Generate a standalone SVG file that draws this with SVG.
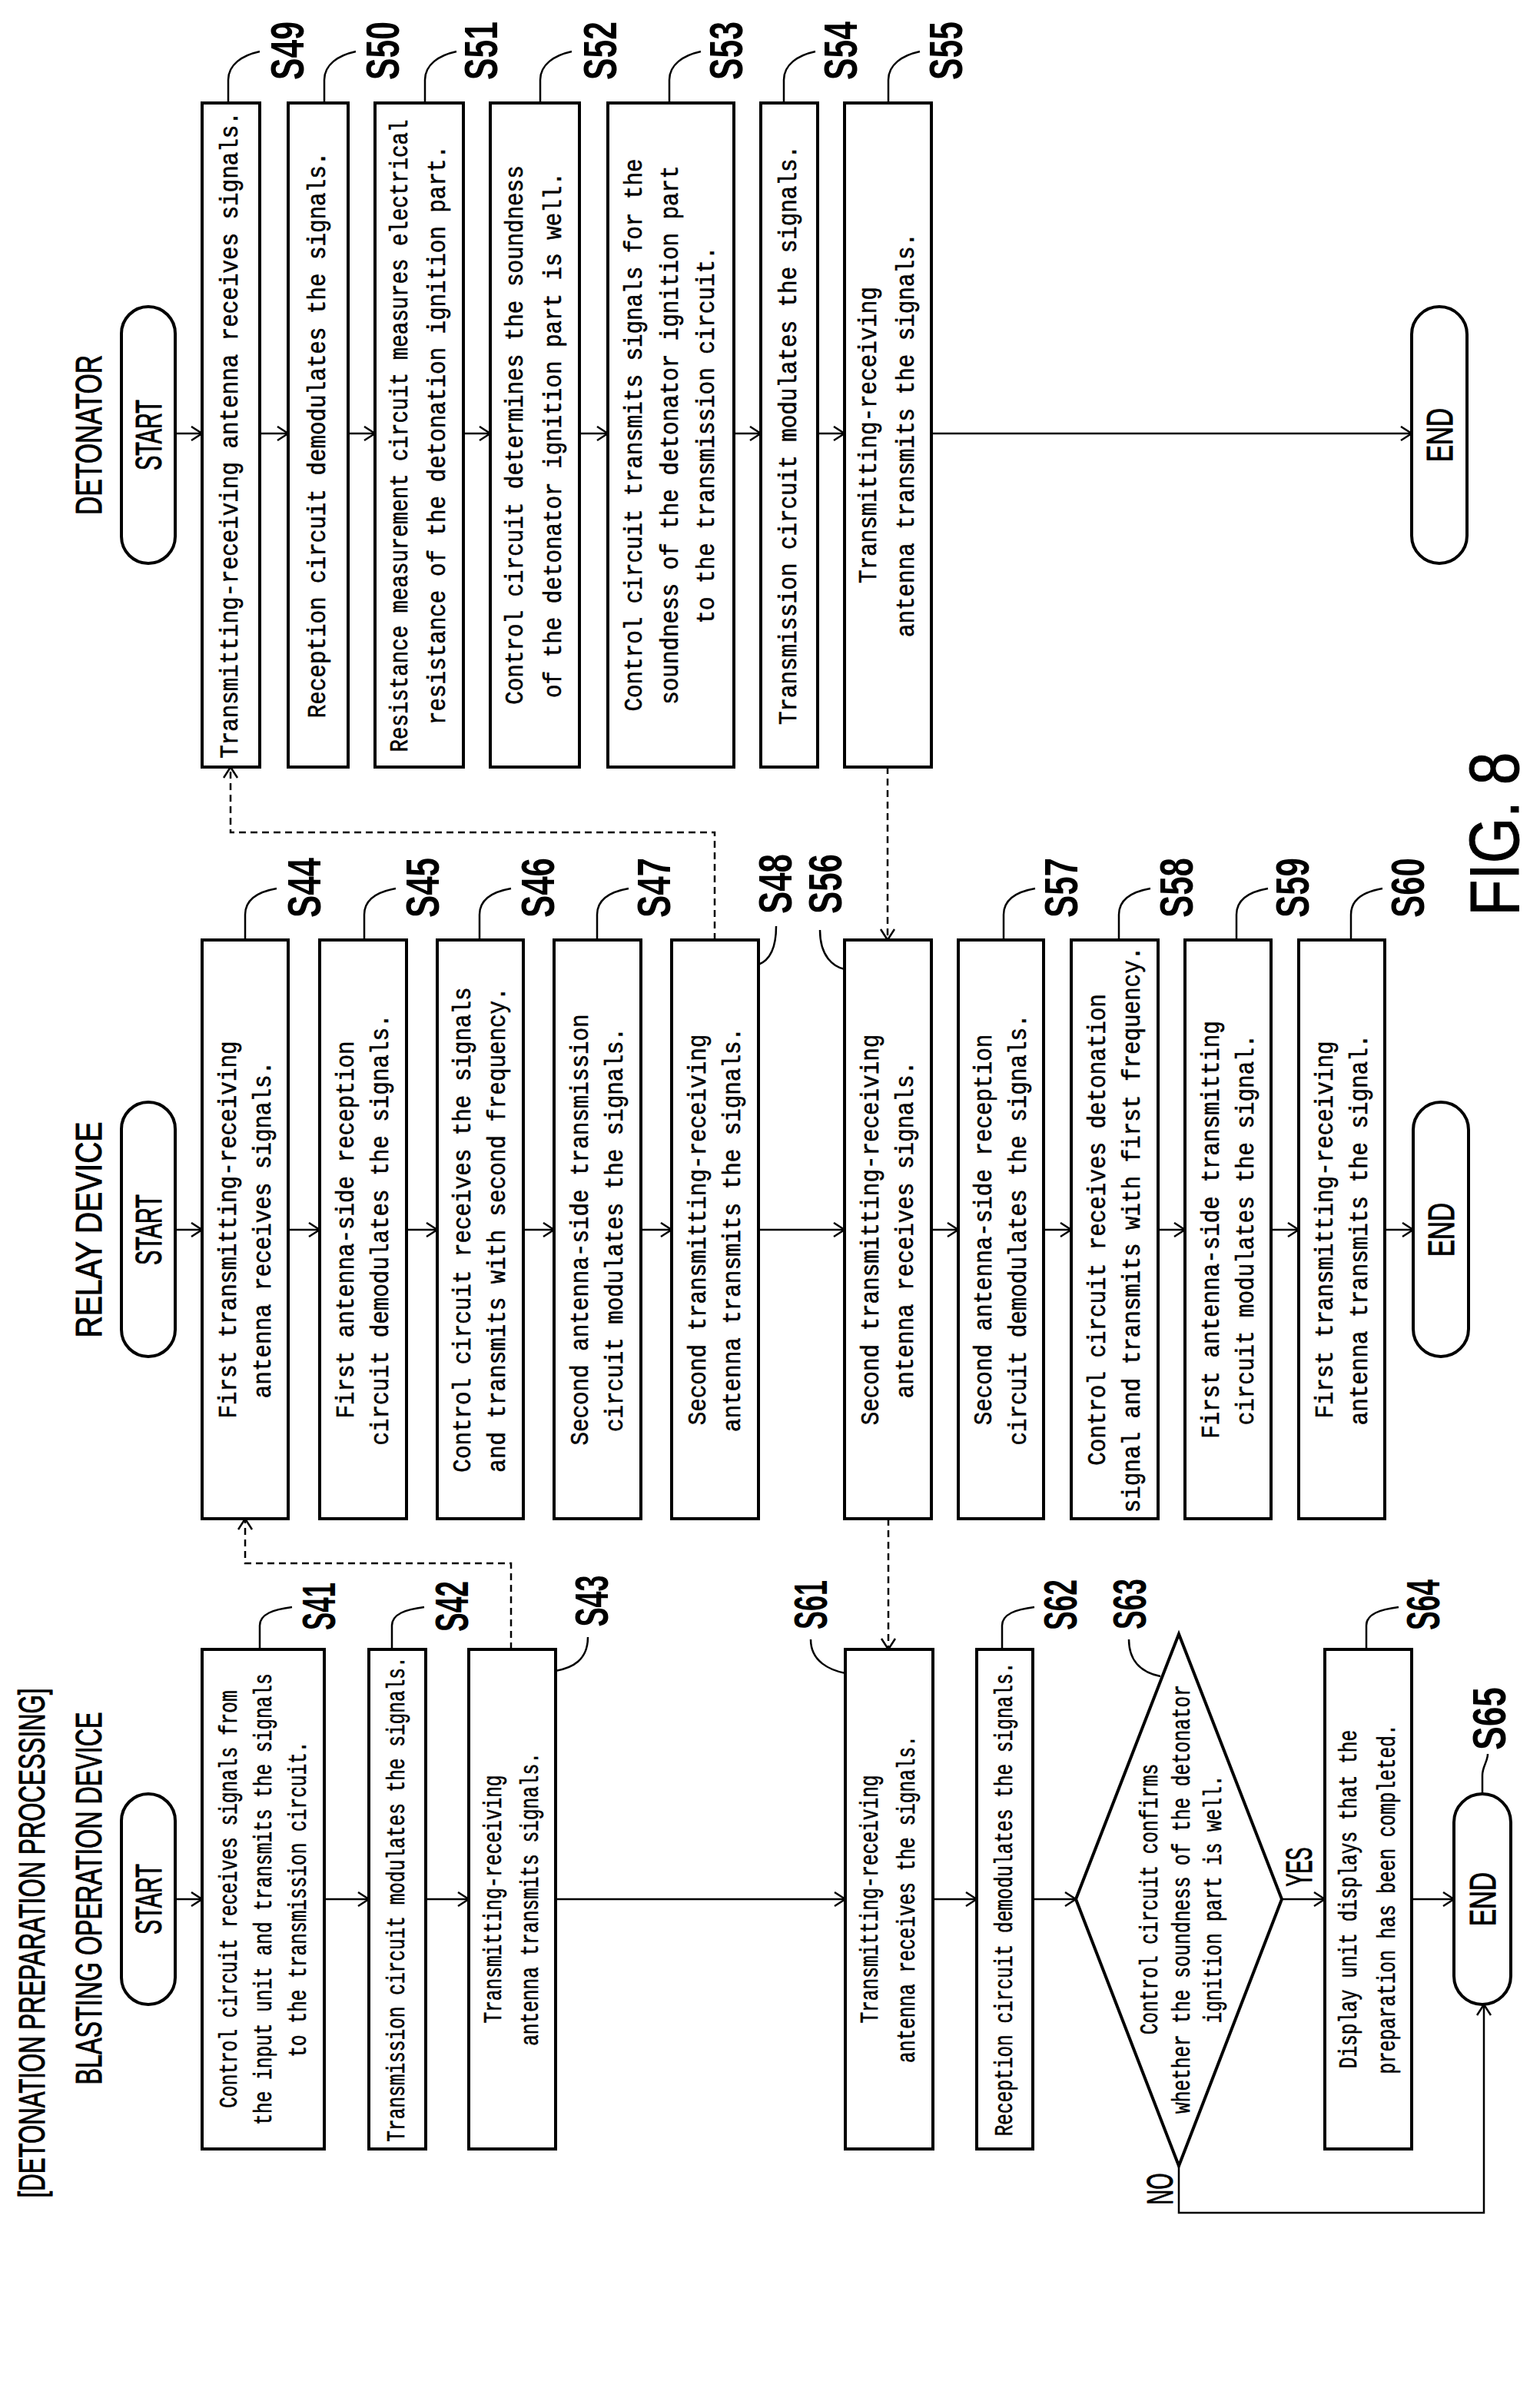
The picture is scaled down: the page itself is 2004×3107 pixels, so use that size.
<svg xmlns="http://www.w3.org/2000/svg" width="2004" height="3107" viewBox="0 0 2004 3107">
<style>
.b{fill:#fff;stroke:#000;stroke-width:4}
.c{fill:none;stroke:#000;stroke-width:2.5}
.d{fill:none;stroke:#000;stroke-width:2.5;stroke-dasharray:9 6}
.t{font-family:"Liberation Mono",monospace;font-size:34px;text-anchor:middle;dominant-baseline:central;stroke:#000;stroke-width:0.6}
.h{font-family:"Liberation Sans",sans-serif;font-size:48px;text-anchor:middle;dominant-baseline:central;stroke:#000;stroke-width:1}
.l{font-family:"Liberation Sans",sans-serif;font-size:62px;font-weight:bold;text-anchor:middle;dominant-baseline:central}
</style>
<defs>
<marker id="a" markerUnits="userSpaceOnUse" markerWidth="20" markerHeight="24" refX="15" refY="10" orient="auto">
<path d="M1,1 L15,10 L1,19" fill="none" stroke="#000" stroke-width="2.5"/>
</marker>
</defs>
<rect width="2004" height="3107" fill="#fff"/>

<g id="titles">
<text class="h" transform="translate(115 566) rotate(-90)" textLength="208" lengthAdjust="spacingAndGlyphs">DETONATOR</text>
<text class="h" transform="translate(115 1600) rotate(-90)" textLength="281" lengthAdjust="spacingAndGlyphs">RELAY DEVICE</text>
<text class="h" transform="translate(115 2470) rotate(-90)" textLength="485" lengthAdjust="spacingAndGlyphs">BLASTING OPERATION DEVICE</text>
<text class="h" transform="translate(41 2528) rotate(-90)" textLength="663" lengthAdjust="spacingAndGlyphs">[DETONATION PREPARATION PROCESSING]</text>
<text class="h" style="font-size:90px" transform="translate(1945 1085) rotate(-90)" textLength="213" lengthAdjust="spacingAndGlyphs">FIG. 8</text>
</g>

<g id="connectors">
<path class="c" marker-end="url(#a)" d="M228,564H263"/>
<path class="c" marker-end="url(#a)" d="M338,564H375"/>
<path class="c" marker-end="url(#a)" d="M453,564H488"/>
<path class="c" marker-end="url(#a)" d="M603,564H638"/>
<path class="c" marker-end="url(#a)" d="M754,564H791"/>
<path class="c" marker-end="url(#a)" d="M955,564H990"/>
<path class="c" marker-end="url(#a)" d="M1064,564H1099"/>
<path class="c" marker-end="url(#a)" d="M1212,564H1837"/>

<path class="c" marker-end="url(#a)" d="M228,1600H263"/>
<path class="c" marker-end="url(#a)" d="M375,1600H416"/>
<path class="c" marker-end="url(#a)" d="M529,1600H569"/>
<path class="c" marker-end="url(#a)" d="M681,1600H721"/>
<path class="c" marker-end="url(#a)" d="M834,1600H874"/>
<path class="c" marker-end="url(#a)" d="M987,1600H1099"/>
<path class="c" marker-end="url(#a)" d="M1212,1600H1247"/>
<path class="c" marker-end="url(#a)" d="M1358,1600H1394"/>
<path class="c" marker-end="url(#a)" d="M1507,1600H1542"/>
<path class="c" marker-end="url(#a)" d="M1654,1600H1690"/>
<path class="c" marker-end="url(#a)" d="M1802,1600H1839"/>

<path class="c" marker-end="url(#a)" d="M228,2471H263"/>
<path class="c" marker-end="url(#a)" d="M422,2471H480"/>
<path class="c" marker-end="url(#a)" d="M554,2471H610"/>
<path class="c" marker-end="url(#a)" d="M723,2471H1100"/>
<path class="c" marker-end="url(#a)" d="M1214,2471H1271"/>
<path class="c" marker-end="url(#a)" d="M1344,2471H1400"/>
<path class="c" marker-end="url(#a)" d="M1668,2471H1724"/>
<path class="c" marker-end="url(#a)" d="M1837,2471H1892"/>
<path class="c" marker-end="url(#a)" d="M1534,2818V2879H1931V2608"/>

<path class="d" marker-end="url(#a)" d="M665,2146V2034H319V1976"/>
<path class="d" marker-end="url(#a)" d="M930,1223V1083H300V998"/>
<path class="d" marker-end="url(#a)" d="M1155,998V1223"/>
<path class="d" marker-end="url(#a)" d="M1156,1976V2146"/>

<path class="c" d="M297,134V104C297,84 315,72 338,67"/>
<path class="c" d="M422,134V104C422,84 440,72 463,67"/>
<path class="c" d="M553,134V104C553,84 571,72 594,67"/>
<path class="c" d="M703,134V104C703,84 721,72 744,67"/>
<path class="c" d="M871,134V104C871,84 889,72 912,67"/>
<path class="c" d="M1020,134V104C1020,84 1038,72 1061,67"/>
<path class="c" d="M1156,134V104C1156,84 1174,72 1197,67"/>

<path class="c" d="M319,1223V1190C319,1170 337,1160 360,1156"/>
<path class="c" d="M474,1223V1190C474,1170 492,1160 515,1156"/>
<path class="c" d="M624,1223V1190C624,1170 642,1160 665,1156"/>
<path class="c" d="M777,1223V1190C777,1170 795,1160 818,1156"/>
<path class="c" d="M987,1255C1000,1250 1010,1235 1010,1205"/>
<path class="c" d="M1099,1261C1085,1258 1067,1245 1067,1210"/>
<path class="c" d="M1306,1223V1190C1306,1170 1324,1160 1347,1156"/>
<path class="c" d="M1456,1223V1190C1456,1170 1474,1160 1497,1156"/>
<path class="c" d="M1609,1223V1190C1609,1170 1627,1160 1650,1156"/>
<path class="c" d="M1758,1223V1190C1758,1170 1776,1160 1799,1156"/>

<path class="c" d="M338,2146V2115C338,2100 356,2094 380,2091"/>
<path class="c" d="M510,2146V2115C510,2100 528,2094 552,2091"/>
<path class="c" d="M723,2174C745,2170 765,2160 765,2130"/>
<path class="c" d="M1100,2177C1080,2173 1055,2162 1055,2133"/>
<path class="c" d="M1304,2146V2115C1304,2100 1322,2094 1346,2091"/>
<path class="c" d="M1510,2181C1490,2177 1469,2165 1469,2133"/>
<path class="c" d="M1778,2146V2115C1778,2100 1796,2094 1820,2091"/>
<path class="c" d="M1929,2334V2310C1929,2298 1936,2292 1936,2282"/>
</g>

<g id="det-start"><rect class="b" x="158" y="399" width="70" height="334" rx="35"/><text class="h" transform="translate(193 566) rotate(-90)" textLength="92" lengthAdjust="spacingAndGlyphs">START</text></g>
<g id="S49"><rect class="b" x="263" y="134" width="75" height="864"/><text class="t" transform="translate(300.5 566) rotate(-90) scale(0.86 1)">Transmitting-receiving antenna receives signals.</text><text class="l" transform="translate(373 66) rotate(-90)" textLength="76" lengthAdjust="spacingAndGlyphs">S49</text></g>
<g id="S50"><rect class="b" x="375" y="134" width="78" height="864"/><text class="t" transform="translate(414 566) rotate(-90) scale(0.86 1)">Reception circuit demodulates the signals.</text><text class="l" transform="translate(497 66) rotate(-90)" textLength="76" lengthAdjust="spacingAndGlyphs">S50</text></g>
<g id="S51"><rect class="b" x="488" y="134" width="115" height="864"/><text class="t" transform="translate(520.5 567) rotate(-90)" textLength="823" lengthAdjust="spacingAndGlyphs">Resistance measurement circuit measures electrical</text><text class="t" transform="translate(570.5 566) rotate(-90) scale(0.86 1)">resistance of the detonation ignition part.</text><text class="l" transform="translate(625 66) rotate(-90)" textLength="76" lengthAdjust="spacingAndGlyphs">S51</text></g>
<g id="S52"><rect class="b" x="638" y="134" width="116" height="864"/><text class="t" transform="translate(671 566) rotate(-90) scale(0.86 1)">Control circuit determines the soundness</text><text class="t" transform="translate(721 566) rotate(-90) scale(0.86 1)">of the detonator ignition part is well.</text><text class="l" transform="translate(780 66) rotate(-90)" textLength="76" lengthAdjust="spacingAndGlyphs">S52</text></g>
<g id="S53"><rect class="b" x="791" y="134" width="164" height="864"/><text class="t" transform="translate(826 566) rotate(-90) scale(0.86 1)">Control circuit transmits signals for the</text><text class="t" transform="translate(873 566) rotate(-90) scale(0.86 1)">soundness of the detonator ignition part</text><text class="t" transform="translate(920 566) rotate(-90) scale(0.86 1)">to the transmission circuit.</text><text class="l" transform="translate(944 66) rotate(-90)" textLength="76" lengthAdjust="spacingAndGlyphs">S53</text></g>
<g id="S54"><rect class="b" x="990" y="134" width="74" height="864"/><text class="t" transform="translate(1027 566) rotate(-90) scale(0.86 1)">Transmission circuit modulates the signals.</text><text class="l" transform="translate(1093 66) rotate(-90)" textLength="76" lengthAdjust="spacingAndGlyphs">S54</text></g>
<g id="S55"><rect class="b" x="1099" y="134" width="113" height="864"/><text class="t" transform="translate(1131 566) rotate(-90) scale(0.86 1)">Transmitting-receiving</text><text class="t" transform="translate(1180 566) rotate(-90) scale(0.86 1)">antenna transmits the signals.</text><text class="l" transform="translate(1230 66) rotate(-90)" textLength="76" lengthAdjust="spacingAndGlyphs">S55</text></g>
<g id="det-end"><rect class="b" x="1837" y="399" width="72" height="334" rx="36"/><text class="h" transform="translate(1873 566) rotate(-90)" textLength="70" lengthAdjust="spacingAndGlyphs">END</text></g>

<g id="rel-start"><rect class="b" x="158" y="1434" width="70" height="331" rx="35"/><text class="h" transform="translate(193 1600) rotate(-90)" textLength="92" lengthAdjust="spacingAndGlyphs">START</text></g>
<g id="S44"><rect class="b" x="263" y="1223" width="112" height="753"/><text class="t" transform="translate(298 1600) rotate(-90) scale(0.86 1)">First transmitting-receiving</text><text class="t" transform="translate(343 1600) rotate(-90) scale(0.86 1)">antenna receives signals.</text><text class="l" transform="translate(395 1155) rotate(-90)" textLength="78" lengthAdjust="spacingAndGlyphs">S44</text></g>
<g id="S45"><rect class="b" x="416" y="1223" width="113" height="753"/><text class="t" transform="translate(451 1600) rotate(-90) scale(0.86 1)">First antenna-side reception</text><text class="t" transform="translate(496 1600) rotate(-90) scale(0.86 1)">circuit demodulates the signals.</text><text class="l" transform="translate(549 1155) rotate(-90)" textLength="78" lengthAdjust="spacingAndGlyphs">S45</text></g>
<g id="S46"><rect class="b" x="569" y="1223" width="112" height="753"/><text class="t" transform="translate(603 1600) rotate(-90) scale(0.86 1)">Control circuit receives the signals</text><text class="t" transform="translate(648 1600) rotate(-90) scale(0.86 1)">and transmits with second frequency.</text><text class="l" transform="translate(699 1155) rotate(-90)" textLength="78" lengthAdjust="spacingAndGlyphs">S46</text></g>
<g id="S47"><rect class="b" x="721" y="1223" width="113" height="753"/><text class="t" transform="translate(756 1600) rotate(-90) scale(0.86 1)">Second antenna-side transmission</text><text class="t" transform="translate(801 1600) rotate(-90) scale(0.86 1)">circuit modulates the signals.</text><text class="l" transform="translate(850 1155) rotate(-90)" textLength="78" lengthAdjust="spacingAndGlyphs">S47</text></g>
<g id="S48"><rect class="b" x="874" y="1223" width="113" height="753"/><text class="t" transform="translate(909 1600) rotate(-90) scale(0.86 1)">Second transmitting-receiving</text><text class="t" transform="translate(954 1600) rotate(-90) scale(0.86 1)">antenna transmits the signals.</text><text class="l" transform="translate(1008 1150) rotate(-90)" textLength="78" lengthAdjust="spacingAndGlyphs">S48</text></g>
<g id="S56"><rect class="b" x="1099" y="1223" width="113" height="753"/><text class="t" transform="translate(1134 1600) rotate(-90) scale(0.86 1)">Second transmitting-receiving</text><text class="t" transform="translate(1179 1600) rotate(-90) scale(0.86 1)">antenna receives signals.</text><text class="l" transform="translate(1073 1150) rotate(-90)" textLength="78" lengthAdjust="spacingAndGlyphs">S56</text></g>
<g id="S57"><rect class="b" x="1247" y="1223" width="111" height="753"/><text class="t" transform="translate(1281 1600) rotate(-90) scale(0.86 1)">Second antenna-side reception</text><text class="t" transform="translate(1326 1600) rotate(-90) scale(0.86 1)">circuit demodulates the signals.</text><text class="l" transform="translate(1380 1155) rotate(-90)" textLength="78" lengthAdjust="spacingAndGlyphs">S57</text></g>
<g id="S58"><rect class="b" x="1394" y="1223" width="113" height="753"/><text class="t" transform="translate(1429 1600) rotate(-90) scale(0.86 1)">Control circuit receives detonation</text><text class="t" transform="translate(1474 1600) rotate(-90) scale(0.86 1)">signal and transmits with first frequency.</text><text class="l" transform="translate(1530 1155) rotate(-90)" textLength="78" lengthAdjust="spacingAndGlyphs">S58</text></g>
<g id="S59"><rect class="b" x="1542" y="1223" width="112" height="753"/><text class="t" transform="translate(1577 1600) rotate(-90) scale(0.86 1)">First antenna-side transmitting</text><text class="t" transform="translate(1622 1600) rotate(-90) scale(0.86 1)">circuit modulates the signal.</text><text class="l" transform="translate(1681 1155) rotate(-90)" textLength="78" lengthAdjust="spacingAndGlyphs">S59</text></g>
<g id="S60"><rect class="b" x="1690" y="1223" width="112" height="753"/><text class="t" transform="translate(1725 1600) rotate(-90) scale(0.86 1)">First transmitting-receiving</text><text class="t" transform="translate(1770 1600) rotate(-90) scale(0.86 1)">antenna transmits the signal.</text><text class="l" transform="translate(1831 1155) rotate(-90)" textLength="78" lengthAdjust="spacingAndGlyphs">S60</text></g>
<g id="rel-end"><rect class="b" x="1839" y="1434" width="72" height="331" rx="36"/><text class="h" transform="translate(1875 1600) rotate(-90)" textLength="70" lengthAdjust="spacingAndGlyphs">END</text></g>

<g id="bl-start"><rect class="b" x="158" y="2334" width="70" height="274" rx="35"/><text class="h" transform="translate(193 2471) rotate(-90)" textLength="92" lengthAdjust="spacingAndGlyphs">START</text></g>
<g id="S41"><rect class="b" x="263" y="2146" width="159" height="650"/><text class="t" transform="translate(299 2471) rotate(-90) scale(0.72 1)">Control circuit receives signals from</text><text class="t" transform="translate(344 2471) rotate(-90) scale(0.72 1)">the input unit and transmits the signals</text><text class="t" transform="translate(389 2471) rotate(-90) scale(0.72 1)">to the transmission circuit.</text><text class="l" transform="translate(414 2090) rotate(-90)" textLength="62" lengthAdjust="spacingAndGlyphs">S41</text></g>
<g id="S42"><rect class="b" x="480" y="2146" width="74" height="650"/><text class="t" transform="translate(517 2471) rotate(-90) scale(0.72 1)">Transmission circuit modulates the signals.</text><text class="l" transform="translate(587 2090) rotate(-90)" textLength="66" lengthAdjust="spacingAndGlyphs">S42</text></g>
<g id="S43"><rect class="b" x="610" y="2146" width="113" height="650"/><text class="t" transform="translate(643 2471) rotate(-90) scale(0.72 1)">Transmitting-receiving</text><text class="t" transform="translate(691 2471) rotate(-90) scale(0.72 1)">antenna transmits signals.</text><text class="l" transform="translate(769 2083) rotate(-90)" textLength="67" lengthAdjust="spacingAndGlyphs">S43</text></g>
<g id="S61"><rect class="b" x="1100" y="2146" width="114" height="650"/><text class="t" transform="translate(1133 2471) rotate(-90) scale(0.72 1)">Transmitting-receiving</text><text class="t" transform="translate(1181 2471) rotate(-90) scale(0.72 1)">antenna receives the signals.</text><text class="l" transform="translate(1054 2088) rotate(-90)" textLength="64" lengthAdjust="spacingAndGlyphs">S61</text></g>
<g id="S62"><rect class="b" x="1271" y="2146" width="73" height="650"/><text class="t" transform="translate(1307.5 2471) rotate(-90) scale(0.72 1)">Reception circuit demodulates the signals.</text><text class="l" transform="translate(1379 2088) rotate(-90)" textLength="66" lengthAdjust="spacingAndGlyphs">S62</text></g>
<g id="S63"><path class="b" d="M1400,2471L1534,2126L1668,2471L1534,2818Z"/><text class="t" transform="translate(1497 2471) rotate(-90) scale(0.72 1)">Control circuit confirms</text><text class="t" transform="translate(1539 2471) rotate(-90) scale(0.72 1)">whether the soundness of the detonator</text><text class="t" transform="translate(1580 2471) rotate(-90) scale(0.72 1)">ignition part is well.</text><text class="l" transform="translate(1469 2087) rotate(-90)" textLength="66" lengthAdjust="spacingAndGlyphs">S63</text>
<text class="h" transform="translate(1690 2429) rotate(-90)" textLength="51" lengthAdjust="spacingAndGlyphs">YES</text><text class="h" transform="translate(1509 2848) rotate(-90)" textLength="41" lengthAdjust="spacingAndGlyphs">NO</text></g>
<g id="S64"><rect class="b" x="1724" y="2146" width="113" height="650"/><text class="t" transform="translate(1756 2471) rotate(-90) scale(0.72 1)">Display unit displays that the</text><text class="t" transform="translate(1806 2471) rotate(-90) scale(0.72 1)">preparation has been completed.</text><text class="l" transform="translate(1851 2088) rotate(-90)" textLength="66" lengthAdjust="spacingAndGlyphs">S64</text></g>
<g id="S65"><rect class="b" x="1892" y="2334" width="74" height="274" rx="37"/><text class="h" transform="translate(1929 2471) rotate(-90)" textLength="70" lengthAdjust="spacingAndGlyphs">END</text><text class="l" transform="translate(1937 2236) rotate(-90)" textLength="82" lengthAdjust="spacingAndGlyphs">S65</text></g>
</svg>
